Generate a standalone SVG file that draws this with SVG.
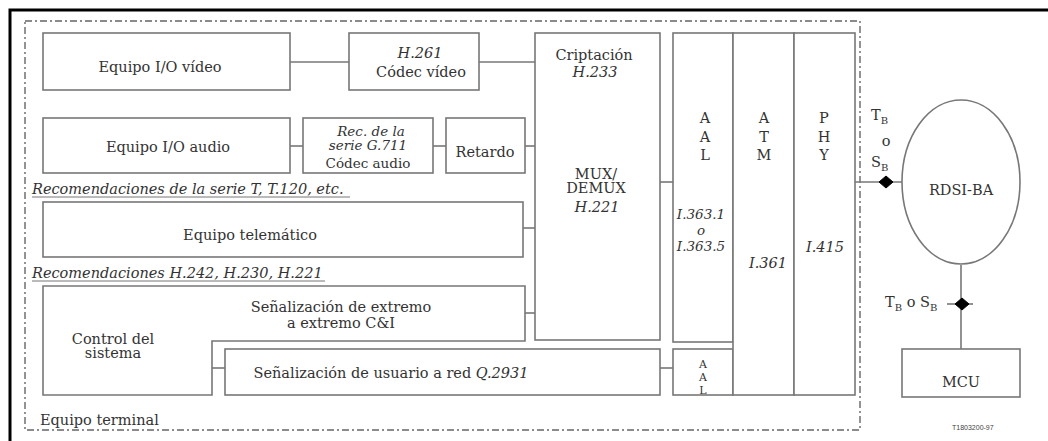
<svg xmlns="http://www.w3.org/2000/svg" width="1048" height="441" viewBox="0 0 1048 441">
<style>
.b{fill:#fff;stroke:#777;stroke-width:1.6}
.l{fill:none;stroke:#777;stroke-width:1.6}
.t{font-family:"DejaVu Serif","Liberation Serif",serif;font-size:14.5px;fill:#333;text-anchor:middle}
.m{font-size:13.5px}
.x{font-size:11px}
.i{font-style:italic}
.s{text-anchor:start}
.sub{font-size:10px}
</style>
<rect x="0" y="0" width="1048" height="441" fill="#fff"/>
<rect x="10" y="10" width="1050" height="450" fill="none" stroke="#000" stroke-width="3"/>
<rect x="25" y="21" width="835" height="409" fill="none" stroke="#666" stroke-width="1.4" stroke-dasharray="7,3,2,3"/>
<g id="connectors" class="l">
<line x1="290" y1="62" x2="349" y2="62"/>
<line x1="479" y1="62" x2="535" y2="62"/>
<line x1="290" y1="146" x2="303" y2="146"/>
<line x1="433" y1="146" x2="446" y2="146"/>
<line x1="525" y1="146" x2="535" y2="146"/>
<line x1="660" y1="182" x2="673" y2="182"/>
<line x1="523" y1="228" x2="535" y2="228"/>
<line x1="525" y1="313" x2="535" y2="313"/>
<line x1="212" y1="368" x2="225" y2="368"/>
<line x1="660" y1="368" x2="673" y2="368"/>
<line x1="855" y1="182" x2="902" y2="182"/>
<line x1="961" y1="265" x2="961" y2="349"/>
<line x1="947" y1="304" x2="973" y2="304"/>
<polygon points="886,176 893,182 886,188 879,182" fill="#000" stroke="#000" stroke-width="1"/>
<polygon points="962,298 969,304 962,310 955,304" fill="#000" stroke="#000" stroke-width="1"/>
<line x1="32" y1="197" x2="350" y2="197" stroke-width="1"/>
<line x1="32" y1="281" x2="325" y2="281" stroke-width="1"/>
</g>
<g id="video-io"><rect class="b" x="43" y="33" width="247" height="57"/><text class="t" x="160" y="72">Equipo I/O vídeo</text></g>
<g id="audio-io"><rect class="b" x="43" y="118" width="247" height="55"/><text class="t" x="168" y="152">Equipo I/O audio</text></g>
<g id="h261"><rect class="b" x="349" y="33" width="130" height="57"/><text class="t i" x="420" y="58">H.261</text><text class="t" x="421" y="77">Códec vídeo</text></g>
<g id="g711"><rect class="b" x="303" y="118" width="130" height="55"/><text class="t i m" x="371" y="136">Rec. de la</text><text class="t i m" x="368" y="150">serie G.711</text><text class="t m" x="368" y="168">Códec audio</text></g>
<g id="retardo"><rect class="b" x="446" y="118" width="79" height="55"/><text class="t" x="485" y="157">Retardo</text></g>
<g id="mux"><rect class="b" x="535" y="33" width="125" height="307"/>
<text class="t" x="594" y="60">Criptación</text><text class="t i" x="595" y="77">H.233</text>
<text class="t" x="596" y="179">MUX/</text><text class="t" x="596" y="193">DEMUX</text><text class="t i" x="597" y="212">H.221</text></g>
<g id="telematico"><text class="t i s" x="32" y="194">Recomendaciones de la serie T, T.120, etc.</text>
<rect class="b" x="43" y="202" width="480" height="55"/><text class="t" x="250" y="240">Equipo telemático</text></g>
<g id="control"><text class="t i s" x="32" y="278">Recomendaciones H.242, H.230, H.221</text>
<polygon class="b" points="43,286 525,286 525,341 212,341 212,395 43,395"/>
<text class="t" x="113" y="344">Control del</text><text class="t" x="113" y="358">sistema</text>
<text class="t" x="341" y="312">Señalización de extremo</text><text class="t" x="341" y="328">a extremo C&amp;I</text></g>
<g id="usuario-red"><rect class="b" x="225" y="349" width="435" height="46"/><text class="t" x="391" y="378">Señalización de usuario a red  <tspan class="i">Q.2931</tspan></text></g>
<g id="aal"><rect class="b" x="673" y="33" width="60" height="309"/>
<text class="t" x="705" y="123">A</text><text class="t" x="705" y="142">A</text><text class="t" x="705" y="160">L</text>
<text class="t i m" x="701" y="219">I.363.1</text><text class="t i m" x="701" y="235">o</text><text class="t i m" x="701" y="251">I.363.5</text></g>
<g id="aal2"><rect class="b" x="673" y="349" width="60" height="46"/>
<text class="t x" x="703" y="368">A</text><text class="t x" x="703" y="381">A</text><text class="t x" x="703" y="394">L</text></g>
<g id="atm"><rect class="b" x="733" y="33" width="61" height="362"/>
<text class="t" x="764" y="123">A</text><text class="t" x="764" y="142">T</text><text class="t" x="764" y="160">M</text>
<text class="t i" x="768" y="268">I.361</text></g>
<g id="phy"><rect class="b" x="794" y="33" width="61" height="362"/>
<text class="t" x="824" y="123">P</text><text class="t" x="824" y="142">H</text><text class="t" x="824" y="160">Y</text>
<text class="t i" x="825" y="252">I.415</text></g>
<g id="ref-tb"><text class="t s" x="871" y="120">T<tspan class="sub" dy="4">B</tspan></text><text class="t" x="886" y="146">o</text><text class="t s" x="871" y="167">S<tspan class="sub" dy="4">B</tspan></text></g>
<g id="rdsi"><ellipse class="b" cx="961" cy="182" rx="59" ry="82"/><text class="t" x="961" y="195">RDSI-BA</text></g>
<g id="ref-tb2"><text class="t s" x="885" y="307">T<tspan class="sub" dy="4">B</tspan><tspan dy="-4"> o S</tspan><tspan class="sub" dy="4">B</tspan></text></g>
<g id="mcu"><rect class="b" x="902" y="349" width="118" height="48"/><text class="t" x="961" y="387">MCU</text></g>
<text class="t s" x="40" y="425">Equipo terminal</text>
<text x="952" y="430" style="font-family:'Liberation Sans',sans-serif;font-size:7px;fill:#444">T1803200-97</text>
</svg>
